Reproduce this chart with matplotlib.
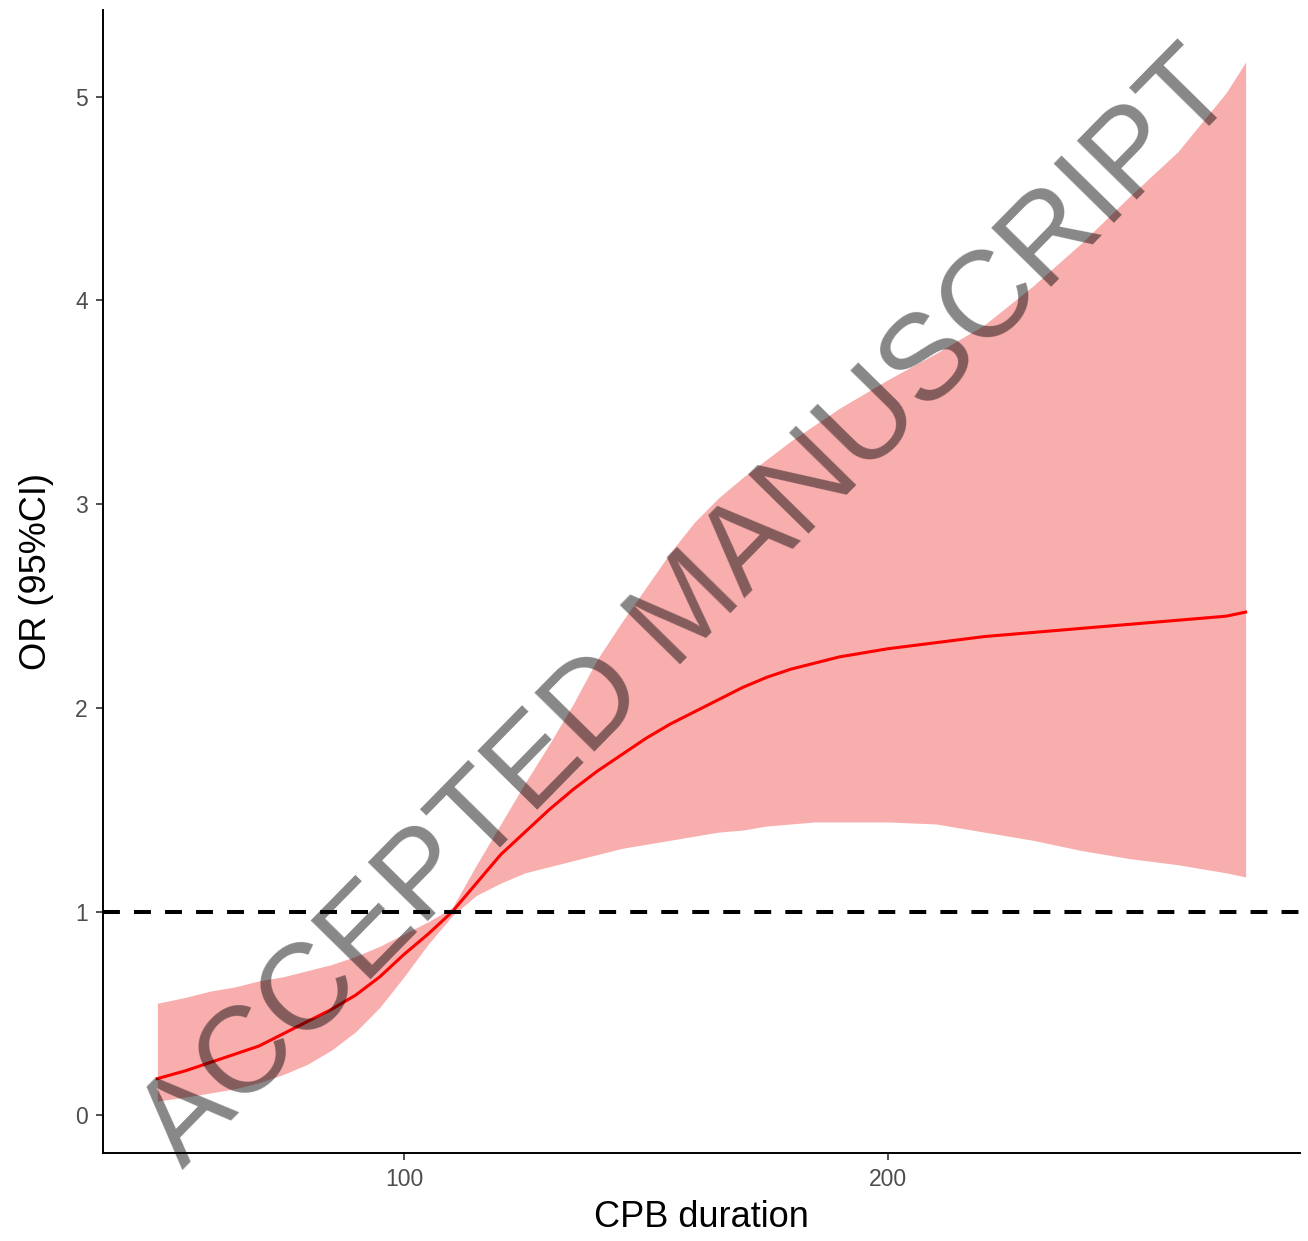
import matplotlib
matplotlib.use("Agg")
import matplotlib.pyplot as plt

plt.rcParams['font.family'] = ['Liberation Sans', 'DejaVu Sans']

# restricted cubic spline fit: OR and 95% CI by CPB duration (min)
cpb = [49, 55, 60, 65, 70, 75, 80, 85, 90, 95, 100, 105, 110, 115, 120, 125,
       130, 135, 140, 145, 150, 155, 160, 165, 170, 175, 180, 185, 190, 195,
       200, 210, 220, 230, 240, 250, 260, 270, 274]
odds = [0.18, 0.22, 0.26, 0.30, 0.34, 0.40, 0.46, 0.52, 0.59, 0.68, 0.79, 0.89,
        1.00, 1.14, 1.28, 1.39, 1.50, 1.60, 1.69, 1.77, 1.85, 1.92, 1.98, 2.04,
        2.10, 2.15, 2.19, 2.22, 2.25, 2.27, 2.29, 2.32, 2.35, 2.37, 2.39, 2.41,
        2.43, 2.45, 2.47]
ci_upper = [0.55, 0.58, 0.61, 0.63, 0.66, 0.68, 0.71, 0.74, 0.78, 0.83, 0.89,
            0.95, 1.02, 1.23, 1.43, 1.63, 1.82, 2.02, 2.24, 2.42, 2.59, 2.76,
            2.91, 3.03, 3.13, 3.22, 3.31, 3.39, 3.47, 3.54, 3.61, 3.74, 3.88,
            4.07, 4.28, 4.51, 4.73, 5.02, 5.17]
ci_lower = [0.07, 0.09, 0.11, 0.13, 0.16, 0.20, 0.25, 0.32, 0.41, 0.53, 0.68,
            0.84, 0.98, 1.08, 1.14, 1.19, 1.22, 1.25, 1.28, 1.31, 1.33, 1.35,
            1.37, 1.39, 1.40, 1.42, 1.43, 1.44, 1.44, 1.44, 1.44, 1.43, 1.39,
            1.35, 1.30, 1.26, 1.23, 1.19, 1.17]
x_ticks = [100, 200]
y_ticks = [0, 1, 2, 3, 4, 5]

fig = plt.figure(figsize=(13.08, 12.41), dpi=100)
ax = fig.add_axes([0.0787, 0.0709, 0.9152, 0.9210])

ax.fill_between(cpb, ci_lower, ci_upper, color='#f9aeae', linewidth=0, zorder=1)
ax.plot(cpb, odds, color='#ff0000', linewidth=2.2, zorder=2)
ax.axhline(1, color='black', linewidth=2.9, linestyle=(0, (4.2, 3.5)), zorder=3)

# ggplot-style 5% expansion
span_x = max(cpb) - min(cpb)
ax.set_xlim(min(cpb) - 0.05 * span_x, max(cpb) + 0.05 * span_x)
span_y = max(ci_upper) - min(ci_lower)
ax.set_ylim(min(ci_lower) - 0.05 * span_y, max(ci_upper) + 0.05 * span_y)

ax.set_xticks(x_ticks)
ax.set_yticks(y_ticks)
ax.tick_params(length=5, width=1.2, color='#333333', labelcolor='#4d4d4d',
               labelsize=16.5, pad=6)
for s in ['top', 'right']:
    ax.spines[s].set_visible(False)
for s in ['left', 'bottom']:
    ax.spines[s].set_linewidth(1.4)
    ax.spines[s].set_color('black')

ax.set_xlabel('CPB duration', fontsize=26, labelpad=6)
ax.set_ylabel('OR (95%CI)', fontsize=26, labelpad=15)
ax.yaxis.label.set_y(0.509)

fig.text(0.527, 0.508, 'ACCEPTED MANUSCRIPT', fontsize=88, color='black',
         alpha=0.47, rotation=45.5, ha='center', va='center', zorder=10)

fig.savefig('out.png', dpi=100)
